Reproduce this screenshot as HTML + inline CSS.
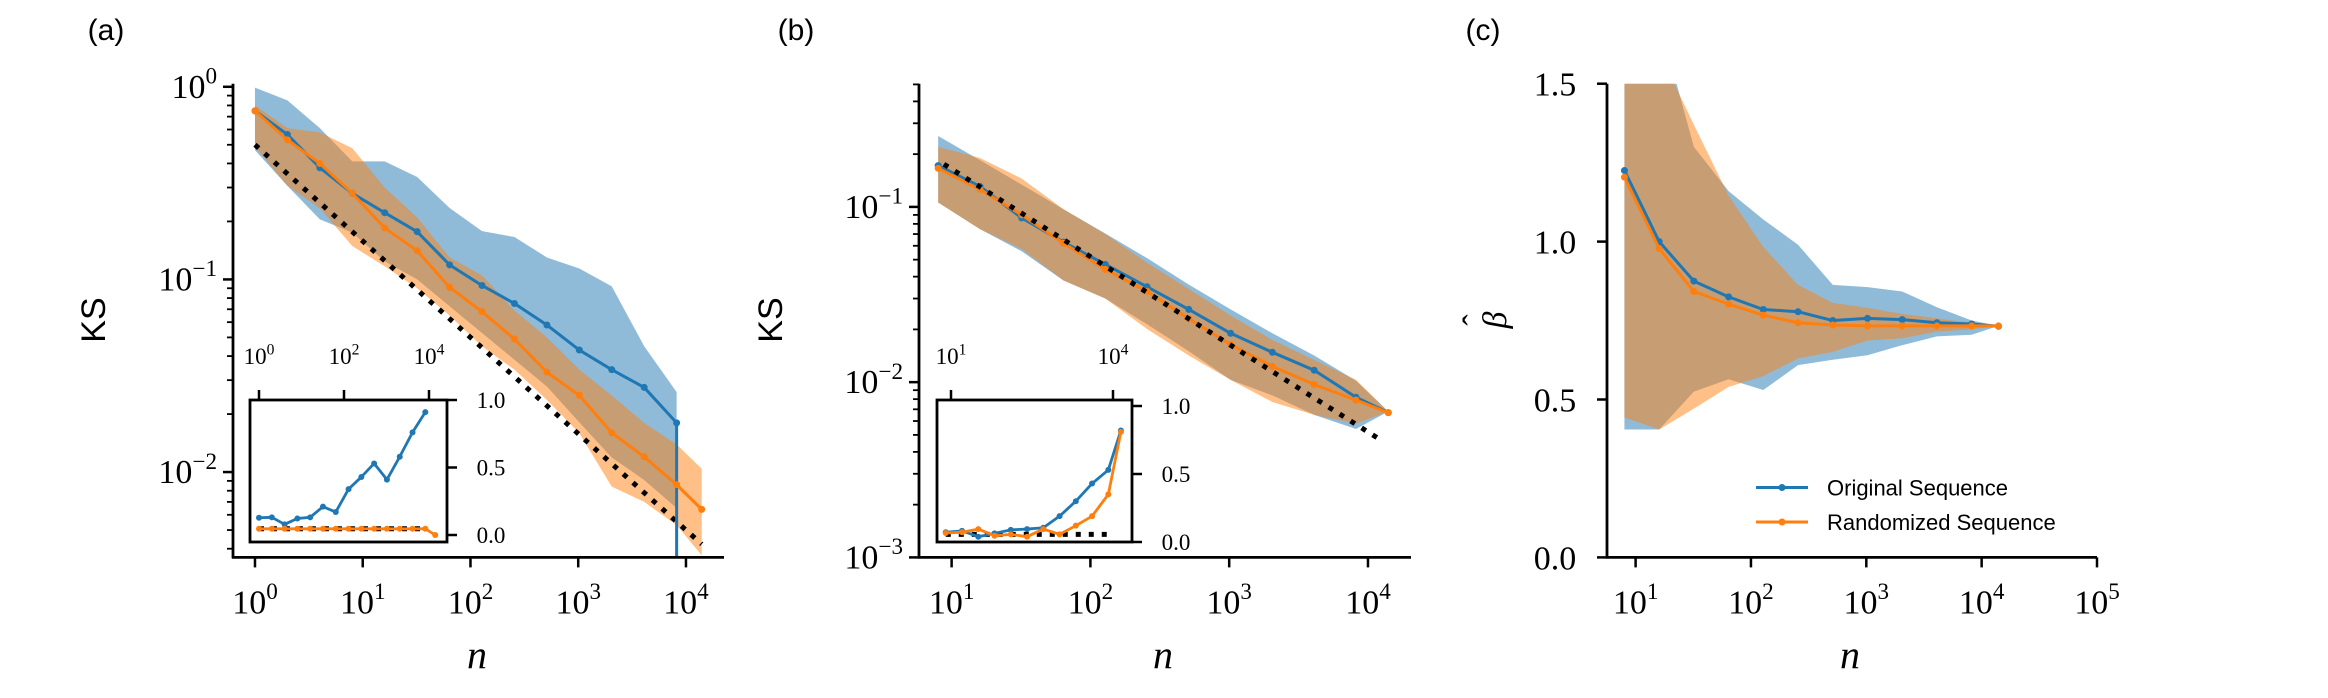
<!DOCTYPE html>
<html><head><meta charset="utf-8"><style>
html,body{margin:0;padding:0;background:#fff;overflow:hidden;width:2328px;height:698px}
svg{display:block}
text{font-family:"Liberation Serif",serif;fill:#000}
.sans{font-family:"Liberation Sans",sans-serif}
</style></head><body>
<svg id="fig" width="2328" height="698" viewBox="0 0 2328 698" xmlns="http://www.w3.org/2000/svg"></svg>
<script>
// ---------- data ----------
const nA = [1,2,4,8,16,32,64,128,256,512,1024,2048,4096,8192];
const nA2 = [1,2,4,8,16,32,64,128,256,512,1024,2048,4096,8192,14000];
const aBlue = [0.75,0.565,0.38,0.28,0.222,0.177,0.119,0.093,0.075,0.058,0.043,0.034,0.0275,0.018];
const aBlueUp = [0.99,0.85,0.61,0.41,0.41,0.34,0.235,0.178,0.166,0.13,0.114,0.092,0.045,0.026];
const aBlueLo = [0.469,0.306,0.205,0.175,0.124,0.1,0.0726,0.0527,0.0383,0.0278,0.0181,0.0119,0.0091,0.0065];
const aOrange = [0.75,0.53,0.40,0.28,0.185,0.141,0.091,0.068,0.049,0.033,0.025,0.016,0.012,0.0086,0.0064];
const aOrangeUp = [0.80,0.61,0.58,0.48,0.30,0.21,0.13,0.105,0.069,0.050,0.034,0.025,0.018,0.0139,0.0104];
const aOrangeLo = [0.49,0.306,0.234,0.149,0.117,0.09,0.065,0.045,0.034,0.0237,0.0159,0.0084,0.007,0.0053,0.0037];
const aInsetBlue = [0.128,0.131,0.079,0.122,0.131,0.21,0.17,0.34,0.43,0.53,0.41,0.58,0.76,0.91];
const aInsetOrange = [0.046,0.046,0.046,0.046,0.046,0.046,0.046,0.046,0.046,0.046,0.046,0.046,0.046,0.046,0.0];
const aRefN = [1,14000];

const nB = [8,16,32,64,128,256,512,1024,2048,4096,8192,14000];
const bBlue = [0.172,0.131,0.0865,0.063,0.047,0.035,0.026,0.019,0.0148,0.0117,0.0082,0.0067];
const bBlueUp = [0.254,0.185,0.134,0.097,0.0705,0.051,0.036,0.026,0.019,0.0142,0.0102,0.0068];
const bBlueLo = [0.106,0.0747,0.0558,0.038,0.030,0.0214,0.015,0.0103,0.0084,0.0065,0.0054,0.0068];
const bOrange = [0.166,0.126,0.09,0.062,0.044,0.033,0.023,0.0164,0.0123,0.0097,0.0079,0.0067];
const bOrangeUp = [0.22,0.19,0.145,0.097,0.07,0.048,0.034,0.024,0.0174,0.0134,0.0103,0.0068];
const bOrangeLo = [0.106,0.0747,0.0575,0.038,0.030,0.0201,0.0142,0.0103,0.0077,0.0065,0.0058,0.0068];
const bInsetBlue = [0.072,0.082,0.039,0.063,0.089,0.095,0.105,0.19,0.30,0.43,0.53,0.82];
const bInsetOrange = [0.066,0.072,0.095,0.046,0.056,0.039,0.095,0.056,0.12,0.19,0.35,0.81];
const bRefN = [8.8,12000];

const cBlue = [1.225,1.0,0.875,0.825,0.785,0.778,0.75,0.757,0.753,0.743,0.739,0.732];
const cBlueUp = [3,1.7,1.3,1.16,1.07,0.99,0.863,0.856,0.842,0.792,0.75,0.733];
const cBlueLo = [0.405,0.405,0.525,0.564,0.53,0.609,0.626,0.64,0.672,0.70,0.705,0.733];
const cOrange = [1.204,0.978,0.842,0.802,0.767,0.743,0.736,0.733,0.733,0.733,0.733,0.733];
const cOrangeUp = [3,1.6,1.37,1.145,0.983,0.863,0.806,0.79,0.771,0.757,0.743,0.733];
const cOrangeLo = [0.443,0.405,0.471,0.54,0.574,0.63,0.651,0.687,0.694,0.715,0.722,0.733];

const BLUE='#1f77b4', ORANGE='#ff7f0e';
const svg=document.getElementById('fig');
const NS='http://www.w3.org/2000/svg';
function el(tag,attrs,parent){const e=document.createElementNS(NS,tag);for(const k in attrs)e.setAttribute(k,attrs[k]);(parent||svg).appendChild(e);return e;}
function logScale(d0,d1,r0,r1){return v=>r0+(Math.log10(v)-d0)/(d1-d0)*(r1-r0);}
function linScale(d0,d1,r0,r1){return v=>r0+(v-d0)/(d1-d0)*(r1-r0);}
let clipId=0;
function clip(x0,y0,x1,y1){const id='c'+(clipId++);const cp=el('clipPath',{id:id});el('rect',{x:x0,y:y0,width:x1-x0,height:y1-y0},cp);return 'url(#'+id+')';}
function band(g,xs,lo,up,X,Y,color,name){
  let d='M'+xs.map((n,i)=>X(n)+','+Y(up[i])).join('L');
  d+='L'+xs.map((n,i)=>X(n)+','+Y(lo[i])).reverse().join('L')+'Z';
  const p=el('path',{d:d,fill:color,'fill-opacity':0.5,stroke:'none'},g);
  
  
}
function line(g,xs,ys,X,Y,color,name,r,w){
  const p=el('polyline',{points:xs.map((n,i)=>X(n)+','+Y(ys[i])).join(' '),fill:'none',stroke:color,'stroke-width':w||3,'stroke-linejoin':'round'},g);
  
  
  xs.forEach((n,i)=>{
    const c=el('circle',{cx:X(n),cy:Y(ys[i]),r:r||3.5,fill:color},g);
    
    
  });
}
function refLine(g,ns,f,X,Y,name){
  const p=el('line',{x1:X(ns[0]),y1:Y(f(ns[0])),x2:X(ns[1]),y2:Y(f(ns[1])),stroke:'#000','stroke-width':5,'stroke-dasharray':'5 8'},g);
  
  
}
function pow10(x,y,exp,size,anchor,name,g){
  const t=el('text',{x:x,y:y,'font-size':size,'text-anchor':anchor||'middle'},g);
  
  
  const a=el('tspan',{},t);a.textContent='10';
  const b=el('tspan',{'font-size':size*0.68,dy:-size*0.42},t);b.textContent=exp;
  return t;
}
function spines(g,x0,y0,x1,y1){
  el('line',{x1:x0,y1:y0,x2:x0,y2:y1+1,stroke:'#000','stroke-width':2.8},g);
  el('line',{x1:x0-1,y1:y1,x2:x1,y2:y1,stroke:'#000','stroke-width':2.8},g);
}
function tick(g,x1,y1,x2,y2,w){el('line',{x1:x1,y1:y1,x2:x2,y2:y2,stroke:'#000','stroke-width':w||2.5},g);}
function minorLogY(g,Y,axX,dlo,dhi,top,bot){
  for(let d=Math.floor(dlo);d<=dhi;d++)for(let m=2;m<=9;m++){const y=Y(m*Math.pow(10,d));if(y>=top-0.5&&y<=bot+0.5)tick(g,axX,y,axX-6,y,1.8);}
}
function label(x,y,txt,size,name,cls,extra){
  const t=el('text',Object.assign({x:x,y:y,'font-size':size,'text-anchor':'middle'},extra||{}));
  if(cls)t.setAttribute('class',cls);
  t.textContent=txt;
  
  
  return t;
}
const TOP=83.7,BOT=557.4;
const TF=34;

// ---------- panel a ----------
(function(){
  const g=el('g',{});
  const x0=233,x1=724;
  const X=logScale(-0.204,4.353,x0,x1), Y=logScale(-2.443,0.016,BOT,TOP);
  const cg=el('g',{'clip-path':clip(x0,TOP-10,x1+10,BOT)},g);
  band(cg,nA,aBlueLo,aBlueUp,X,Y,BLUE,'original-band');
  band(cg,nA2,aOrangeLo,aOrangeUp,X,Y,ORANGE,'randomized-band');
  refLine(cg,aRefN,n=>0.5/Math.sqrt(n),X,Y,'reference-line');
  line(cg,nA,aBlue,X,Y,BLUE,'original-line');
  el('line',{x1:X(8192),y1:Y(aBlue[13]),x2:X(8192),y2:BOT,stroke:BLUE,'stroke-width':3},cg);
  line(cg,nA2,aOrange,X,Y,ORANGE,'randomized-line');
  spines(g,x0,TOP,x1,BOT);
  minorLogY(g,Y,x0,-3,0,TOP,BOT);
  [0,-1,-2].forEach(e=>{const y=Y(Math.pow(10,e));tick(g,x0,y,x0-10,y);pow10(x0-16,y+11,e===0?'0':'−'+(-e),TF,'end','y-tick-label',g);});
  [0,1,2,3,4].forEach(e=>{const x=X(Math.pow(10,e));tick(g,x,BOT,x,BOT+10);pow10(x,BOT+56,String(e),TF,'middle','x-tick-label',g);});
  const ix0=250,ix1=447,iy0=400,iy1=542;
  const ig=el('g',{},g);
  el('rect',{x:ix0,y:iy0,width:ix1-ix0,height:iy1-iy0,fill:'#fff',stroke:'none'},ig);
  const IX=logScale(0,4,259,429), IY=linScale(0,1,535,400);
  refLine(ig,[1,8192],n=>0.046,IX,IY,'inset-reference');
  line(ig,nA,aInsetBlue,IX,IY,BLUE,'inset-original',3,2.8);
  line(ig,nA2,aInsetOrange,IX,IY,ORANGE,'inset-randomized',3,2.8);
  el('rect',{x:ix0,y:iy0,width:ix1-ix0,height:iy1-iy0,fill:'none',stroke:'#000','stroke-width':2.8},ig);
  [0,2,4].forEach(e=>{const x=IX(Math.pow(10,e));tick(ig,x,iy0,x,iy0-10);pow10(x,iy0-36,String(e),23,'middle','inset-x-tick',ig);});
  [0,0.5,1].forEach(v=>{const y=IY(v);tick(ig,ix1,y,ix1+10,y);label(ix1+44,y+8,v.toFixed(1),23,'inset-y-tick');});
  label(106,40,'(a)',30,'panel-a-label','sans');
  label(93,320,'KS',34,'y-axis-title-a','sans',{transform:'rotate(-90 93 320)',dy:12});
  label(477,668,'n',40,'x-axis-title-a',null,{'font-style':'italic'});
})();

// ---------- panel b ----------
(function(){
  const g=el('g',{});
  const x0=919,x1=1411;
  const X=logScale(0.765,4.31,x0,x1), Y=logScale(-3,-0.297,BOT,TOP);
  const cg=el('g',{'clip-path':clip(x0,TOP-10,x1+10,BOT)},g);
  band(cg,nB,bBlueLo,bBlueUp,X,Y,BLUE,'original-band');
  band(cg,nB,bOrangeLo,bOrangeUp,X,Y,ORANGE,'randomized-band');
  line(cg,nB,bBlue,X,Y,BLUE,'original-line');
  line(cg,nB,bOrange,X,Y,ORANGE,'randomized-line');
  refLine(cg,bRefN,n=>0.52/Math.sqrt(n),X,Y,'reference-line');
  spines(g,x0,TOP,x1,BOT);
  minorLogY(g,Y,x0,-3,0,TOP,BOT);
  [-1,-2,-3].forEach(e=>{const y=Y(Math.pow(10,e));tick(g,x0,y,x0-10,y);pow10(x0-16,y+11,'−'+(-e),TF,'end','y-tick-label',g);});
  [1,2,3,4].forEach(e=>{const x=X(Math.pow(10,e));tick(g,x,BOT,x,BOT+10);pow10(x,BOT+56,String(e),TF,'middle','x-tick-label',g);});
  const ix0=937,ix1=1132,iy0=400,iy1=542;
  const ig=el('g',{},g);
  el('rect',{x:ix0,y:iy0,width:ix1-ix0,height:iy1-iy0,fill:'#fff',stroke:'none'},ig);
  const IX=logScale(1,4,951,1113), IY=linScale(0,1,542,406);
  refLine(ig,[8,10000],n=>0.056,IX,IY,'inset-reference');
  line(ig,nB,bInsetBlue,IX,IY,BLUE,'inset-original',3,2.8);
  line(ig,nB,bInsetOrange,IX,IY,ORANGE,'inset-randomized',3,2.8);
  el('rect',{x:ix0,y:iy0,width:ix1-ix0,height:iy1-iy0,fill:'none',stroke:'#000','stroke-width':2.8},ig);
  [1,4].forEach(e=>{const x=IX(Math.pow(10,e));tick(ig,x,iy0,x,iy0-10);pow10(x,iy0-36,String(e),23,'middle','inset-x-tick',ig);});
  [0,0.5,1].forEach(v=>{const y=IY(v);tick(ig,ix1,y,ix1+10,y);label(ix1+44,y+8,v.toFixed(1),23,'inset-y-tick');});
  label(796,40,'(b)',30,'panel-b-label','sans');
  label(770,320,'KS',34,'y-axis-title-b','sans',{transform:'rotate(-90 770 320)',dy:12});
  label(1163,668,'n',40,'x-axis-title-b',null,{'font-style':'italic'});
})();

// ---------- panel c ----------
(function(){
  const g=el('g',{});
  const x0=1607,x1=2097;
  const X=logScale(0.752,5,x0,x1), Y=linScale(0,1.5,BOT,TOP);
  const cg=el('g',{'clip-path':clip(x0,TOP,x1+10,BOT)},g);
  band(cg,nB,cBlueLo,cBlueUp,X,Y,BLUE,'original-band');
  band(cg,nB,cOrangeLo,cOrangeUp,X,Y,ORANGE,'randomized-band');
  line(cg,nB,cBlue,X,Y,BLUE,'original-line');
  line(cg,nB,cOrange,X,Y,ORANGE,'randomized-line');
  spines(g,x0,TOP,x1,BOT);
  [0,0.5,1,1.5].forEach(v=>{const y=Y(v);tick(g,x0,y,x0-10,y);label(x0-52,y+12,v.toFixed(1),TF,'y-tick-label');});
  [1,2,3,4,5].forEach(e=>{const x=X(Math.pow(10,e));tick(g,x,BOT,x,BOT+10);pow10(x,BOT+56,String(e),TF,'middle','x-tick-label',g);});
  label(1483,40,'(c)',30,'panel-c-label','sans');
  label(1496,320,'β',34,'y-axis-title-c',null,{transform:'rotate(-90 1496 320)',dy:10,'font-style':'italic'});
  label(1496,310,'ˆ',34,'y-axis-hat',null,{transform:'rotate(-90 1496 320)'});
  label(1850,668,'n',40,'x-axis-title-c',null,{'font-style':'italic'});
  const lg=el('g',{});
  [['Original Sequence',BLUE,487.5],['Randomized Sequence',ORANGE,522]].forEach(([t,c,y])=>{
    const e=el('g',{},lg);
    el('line',{x1:1756,y1:y,x2:1808,y2:y,stroke:c,'stroke-width':3},e);
    el('circle',{cx:1782,cy:y,r:3.5,fill:c},e);
    const tx=el('text',{x:1827,y:y+8,'font-size':22,class:'sans'},e);tx.textContent=t;
  });
})();
</script>
</body></html>
